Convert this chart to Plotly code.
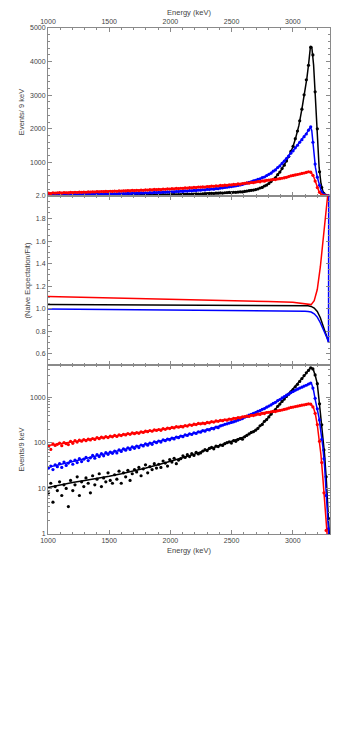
import plotly.graph_objects as go

# bin centres of the measured spectrum (every second 9 keV bin)
data_energy = [1004.5 + 18 * i for i in range(128)]

black_counts = [
    8, 13, 5, 11, 9, 14, 7, 12, 10, 4,
    15, 9, 12, 18, 7, 14, 11, 17, 13, 8,
    19, 12, 16, 21, 11, 17, 14, 22, 15, 13,
    20, 16, 24, 13, 22, 18, 25, 15, 21, 26,
    23, 29, 19, 27, 33, 22, 30, 26, 35, 28,
    34, 29, 40, 36, 31, 43, 38, 46, 35, 42,
    45, 52, 48, 55, 50, 58, 53, 62, 57, 60,
    66, 71, 68, 76, 80, 74, 85, 83, 90, 88,
    96, 101, 105, 99, 112, 108, 118, 125, 121, 136,
    146, 157, 170, 176, 190, 208, 238, 255, 298, 325,
    372, 428, 495, 540, 635, 712, 815, 918, 1045, 1175,
    1325, 1478, 1705, 1935, 2240, 2585, 3010, 3460, 3890, 4430,
    4200, 3100, 2000, 720, 250, 70, 18, 2.2,
]
blue_counts = [
    28, 31, 26, 33, 30, 35, 29, 38, 32, 36,
    40, 34, 42, 37, 45, 39, 44, 48, 41, 47,
    53, 46, 55, 50, 58, 52, 61, 56, 63, 59,
    66, 60, 70, 65, 74, 69, 78, 72, 82, 76,
    85, 79, 90, 86, 95, 89, 99, 93, 106, 101,
    110, 104, 116, 112, 121, 117, 127, 122, 134, 130,
    141, 137, 150, 146, 158, 153, 166, 161, 175, 172,
    186, 181, 197, 193, 208, 204, 221, 216, 236, 244,
    256, 262, 272, 281, 290, 302, 315, 330, 342, 366,
    382, 408, 421, 448, 462, 494, 511, 545, 566, 608,
    645, 680, 740, 776, 845, 896, 970, 1035, 1115, 1185,
    1275, 1345, 1435, 1510, 1600, 1675, 1765, 1845, 1960, 2060,
    1600, 950, 560, 320, 120, 45, 7, 1.3,
]
red_counts = [
    84, 72, 95, 88, 93, 99, 87, 101, 96, 92,
    108, 98, 112, 104, 115, 109, 118, 112, 121, 116,
    125, 119, 130, 124, 134, 128, 137, 131, 141, 136,
    146, 139, 150, 145, 155, 150, 160, 154, 166, 159,
    168, 162, 175, 170, 181, 176, 187, 180, 194, 188,
    197, 189, 205, 199, 212, 206, 219, 213, 227, 221,
    230, 224, 240, 234, 250, 243, 258, 252, 268, 262,
    271, 264, 282, 276, 293, 287, 304, 298, 314, 308,
    322, 316, 334, 328, 347, 341, 360, 353, 372, 378,
    388, 382, 402, 397, 414, 428, 422, 446, 441, 465,
    470, 482, 492, 488, 505, 515, 528, 542, 556, 578,
    600, 612, 628, 640, 655, 672, 685, 700, 722, 708,
    615, 445, 252, 108, 37, 8, 1.2, 0.3,
]

# fitted spectra
fit_energy = [
    1000, 1100, 1200, 1300, 1400, 1500, 1600, 1700, 1800, 1900,
    2000, 2100, 2200, 2300, 2400, 2500, 2600, 2700, 2750, 2800,
    2850, 2900, 2950, 3000, 3025, 3050, 3075, 3100, 3115, 3130,
    3143, 3155, 3170, 3185, 3200, 3215, 3230, 3245, 3260, 3275,
    3290, 3300,
]
black_fit = [
    10.5, 12, 13.5, 15, 16.5, 18.5, 21, 24, 28, 33,
    39, 47, 57, 70, 87, 107, 135, 190, 260, 360,
    520, 740, 1050, 1450, 1750, 2100, 2600, 3150, 3500, 3950,
    4400, 4450, 3900, 2900, 2000, 850, 380, 150, 55, 14,
    2.2, 0.8,
]
blue_fit = [
    29, 34, 39, 45, 52, 60, 69, 79, 91, 106,
    123, 143, 166, 195, 235, 285, 360, 470, 540, 630,
    760, 920, 1120, 1340, 1450, 1570, 1680, 1800, 1880, 1970,
    2050, 1950, 1400, 850, 560, 350, 170, 85, 30, 5,
    1.2, 0.5,
]
red_fit = [
    88, 97, 106, 116, 126, 137, 149, 162, 176, 192,
    210, 230, 252, 276, 303, 335, 375, 420, 460, 470,
    495, 530, 570, 610, 635, 660, 680, 700, 712, 720,
    705, 670, 580, 420, 250, 125, 55, 18, 4, 0.8,
    0.3, 0.2,
]

# (naive expectation / fit)
ratio_energy = [1000, 1500, 2000, 2500, 2800, 3000, 3100, 3125, 3150, 3175,
                3200, 3225, 3250, 3266, 3280, 3292, 3294]
black_ratio = [1.036, 1.035, 1.034, 1.033, 1.032, 1.031, 1.028, 1.025, 1.02, 1.005,
               0.975, 0.92, 0.84, 0.79, 0.74, 0.70, 0.70]
blue_ratio = [0.997, 0.994, 0.99, 0.987, 0.985, 0.983, 0.978, 0.975, 0.97, 0.955,
              0.925, 0.875, 0.815, 0.78, 0.74, 0.70, 2.5]
red_ratio = [1.108, 1.097, 1.086, 1.073, 1.064, 1.056, 1.045, 1.04, 1.036, 1.07,
             1.17, 1.37, 1.62, 1.79, 1.95, 2.08, 2.1]

series = [
    ("black", black_counts, black_fit, black_ratio),
    ("blue", blue_counts, blue_fit, blue_ratio),
    ("red", red_counts, red_fit, red_ratio),
]

FRAME = "#8a8a8a"
TEXT = "#444444"
FONT = "Liberation Sans, Arial, sans-serif"


def axis_style(title=None, **kw):
    style = dict(
        showline=True,
        linecolor=FRAME,
        linewidth=1,
        mirror="ticks",
        ticks="inside",
        ticklen=4,
        tickcolor=FRAME,
        tickwidth=1,
        showgrid=False,
        zeroline=False,
        tickfont=dict(size=7, color=TEXT, family=FONT),
    )
    if title:
        style["title"] = dict(text=title, standoff=4,
                              font=dict(size=7.5, color=TEXT, family=FONT))
    style.update(kw)
    return style


def main():
    fig = go.Figure()

    for color, counts, fit, ratio in series:
        for yaxis in ("y", "y3"):
            xaxis = "x" if yaxis == "y" else "x3"
            fig.add_trace(go.Scatter(
                x=data_energy, y=counts, mode="markers",
                marker=dict(color=color, size=3.2),
                xaxis=xaxis, yaxis=yaxis, showlegend=False,
            ))
            fig.add_trace(go.Scatter(
                x=fit_energy, y=fit, mode="lines",
                line=dict(color=color, width=1.5),
                xaxis=xaxis, yaxis=yaxis, showlegend=False,
            ))
        fig.add_trace(go.Scatter(
            x=ratio_energy, y=ratio, mode="lines",
            line=dict(color=color, width=1.5),
            xaxis="x2", yaxis="y2", showlegend=False,
        ))

    x_range = [1000, 3304]
    x_minor = dict(ticks="inside", dtick=100, tick0=1000, ticklen=2, tickcolor=FRAME)

    # the page body adds an 8 px margin, so the figure is a little smaller
    fig.update_layout(
        template="none",
        width=339,
        height=723,
        margin=dict(l=40, r=17, t=20, b=197),
        paper_bgcolor="white",
        plot_bgcolor="white",
        font=dict(family=FONT, color=TEXT),
        xaxis=axis_style(
            "Energy (keV)", anchor="y", side="top", range=x_range,
            dtick=500, tick0=1000, minor=x_minor,
        ),
        xaxis2=axis_style(
            anchor="y2", range=x_range, dtick=500, tick0=1000,
            minor=x_minor, showticklabels=False,
        ),
        xaxis3=axis_style(
            "Energy (keV)", anchor="y3", range=x_range,
            dtick=500, tick0=1000, minor=x_minor,
        ),
        yaxis=axis_style(
            "Events/ 9 keV", domain=[0.668, 1], range=[0, 5000],
            tickvals=[1000, 2000, 3000, 4000, 5000],
            minor=dict(ticks="inside", dtick=200, ticklen=2, tickcolor=FRAME),
        ),
        yaxis2=axis_style(
            "(Naive Expectation/Fit)", domain=[0.334, 0.668], range=[0.5, 2.0],
            tickvals=[0.6, 0.8, 1.0, 1.2, 1.4, 1.6, 1.8, 2.0],
            ticktext=["0.6", "0.8", "1.0", "1.2", "1.4", "1.6", "1.8", "2.0"],
            minor=dict(ticks="inside", dtick=0.05, tick0=0.5, ticklen=2, tickcolor=FRAME),
        ),
        yaxis3=axis_style(
            "Events/9 keV", domain=[0, 0.334], type="log", range=[0, 3.71],
            tickvals=[1, 10, 100, 1000], ticktext=["1", "10", "100", "1000"],
            minor=dict(
                ticks="inside", ticklen=2, tickcolor=FRAME,
                tickvals=[m * 10 ** k for k in range(4) for m in range(2, 10) if m * 10 ** k < 5200],
            ),
        ),
    )

    fig.write_html("out.html")


if __name__ == "__main__":
    main()
